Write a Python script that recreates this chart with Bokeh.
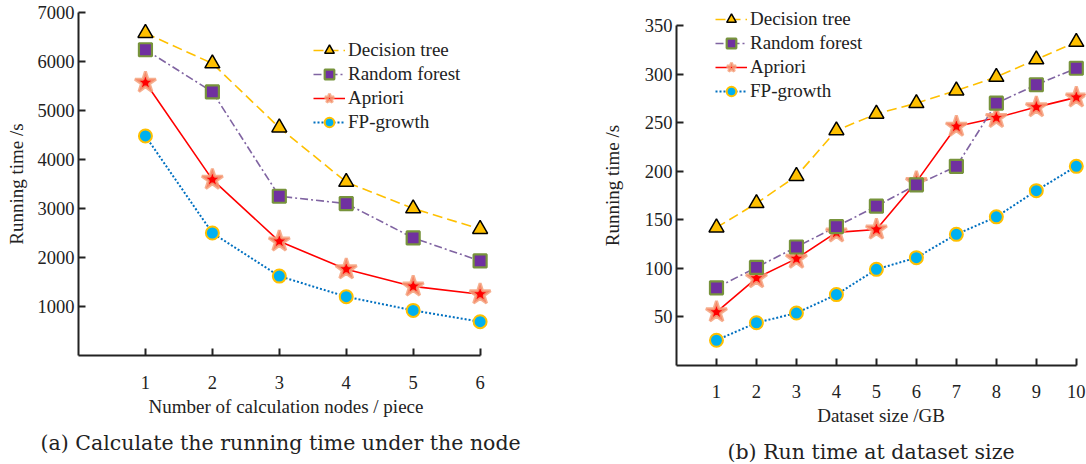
from bokeh.plotting import figure
from bokeh.layouts import row
from bokeh.models import Range1d, FixedTicker, Legend, LegendItem, Title
from bokeh.embed import file_html
from bokeh.resources import INLINE

# ---------------- data ----------------
series_names = ["Decision tree", "Random forest", "Apriori", "FP-growth"]

nodes = [1, 2, 3, 4, 5, 6]
a_decision_tree = [6580, 5960, 4650, 3540, 3000, 2580]
a_random_forest = [6240, 5380, 3250, 3100, 2400, 1930]
a_apriori = [5570, 3590, 2330, 1760, 1410, 1250]
a_fp_growth = [4480, 2500, 1620, 1200, 920, 690]
a_yticks = [1000, 2000, 3000, 4000, 5000, 6000, 7000]

sizes = [1, 2, 3, 4, 5, 6, 7, 8, 9, 10]
b_decision_tree = [142, 167, 195, 242, 259, 270, 283, 297, 315, 333]
b_random_forest = [80, 101, 122, 143, 164, 186, 205, 270, 289, 306]
b_apriori = [55, 90, 110, 137, 140, 189, 246, 255, 266, 276]
b_fp_growth = [26, 44, 54, 73, 99, 111, 135, 153, 180, 205]
b_yticks = [50, 100, 150, 200, 250, 300, 350]

SERIF = "Liberation Serif"

styles = {
    "Decision tree": dict(line=dict(line_color="#FFC000", line_width=1.6, line_dash="10 5"),
                          mk=dict(marker="triangle", size=15, fill_color="#FFC000",
                                  line_color="#000000", line_width=1.5)),
    "Random forest": dict(line=dict(line_color="#8064A2", line_width=1.6, line_dash="8 3 2 3"),
                          mk=dict(marker="square", size=13, fill_color="#7030A0",
                                  line_color="#77933C", line_width=2.2)),
    "Apriori": dict(line=dict(line_color="#FF0000", line_width=1.6),
                    mk=dict(marker="star", size=22, fill_color="#FF0000",
                            line_color="#F4A27C", line_width=3, line_alpha=0.85)),
    "FP-growth": dict(line=dict(line_color="#0070C0", line_width=2, line_dash="2 2"),
                      mk=dict(marker="circle", size=13, fill_color="#00B0F0",
                              line_color="#FFC000", line_width=2)),
}


def make_panel(xs, data, xmax, xbound, ymax, ybound, yticks, frame_w, frame_h, borders,
               xlabel, caption, legend_left, legend_first_center, ylab_standoff,
               xlab_standoff, tick_standoff, cap_standoff, cap_offset):
    bl, br, bt, bb = borders
    p = figure(frame_width=frame_w, frame_height=frame_h,
               x_range=Range1d(0, xmax), y_range=Range1d(0, ymax),
               output_backend="svg", toolbar_location=None,
               min_border_left=bl, min_border_right=br, min_border_top=bt, min_border_bottom=bb)
    try:
        p.frame_align = False
    except Exception:
        pass
    p.outline_line_color = None
    p.grid.visible = False
    p.background_fill_color = "white"

    for ax in (p.xaxis[0], p.yaxis[0]):
        ax.axis_line_width = 2
        ax.axis_line_color = "#222222"
        ax.major_tick_line_color = "#222222"
        ax.major_tick_line_width = 2
        ax.major_tick_in = 7
        ax.major_tick_out = 0
        ax.minor_tick_line_color = None
        ax.major_label_text_font = SERIF
        ax.major_label_text_font_size = "18.5px"
        ax.major_label_text_color = "#222222"
        ax.axis_label_text_font = SERIF
        ax.axis_label_text_font_size = "19px"
        ax.axis_label_text_font_style = "normal"
        ax.axis_label_text_color = "#222222"
    p.xaxis.ticker = FixedTicker(ticks=xs)
    p.yaxis.ticker = FixedTicker(ticks=yticks)
    p.xaxis.bounds = (0, xbound)
    p.yaxis.bounds = (0, ybound)
    p.xaxis.axis_label = xlabel
    p.yaxis.axis_label = "Running time /s"
    p.yaxis.major_label_standoff = 4
    p.xaxis.major_label_standoff = tick_standoff
    p.yaxis.axis_label_standoff = ylab_standoff
    p.xaxis.axis_label_standoff = xlab_standoff

    items = {}
    for name in reversed(series_names):
        st = styles[name]
        lr = p.line(xs, data[name], **st["line"])
        items[name] = [lr]
    for name in ["FP-growth", "Apriori", "Random forest", "Decision tree"]:
        st = styles[name]
        sr = p.scatter(xs, data[name], **st["mk"])
        items[name].append(sr)

    item_h, sp = 24, 0
    legend = Legend(items=[LegendItem(label=n, renderers=items[n]) for n in series_names],
                    border_line_alpha=0, background_fill_alpha=0,
                    padding=0, margin=0, glyph_width=32, glyph_height=item_h,
                    label_height=item_h, label_standoff=3, spacing=sp,
                    label_text_font=SERIF, label_text_font_size="19px",
                    label_text_color="#222222")
    box_h = 4 * item_h + 3 * sp
    top = legend_first_center - item_h / 2
    bottom_from_frame = frame_h + bt - (top + box_h)
    legend.location = (legend_left, int(round(bottom_from_frame)))
    p.add_layout(legend)

    t = Title(text=caption, align="left", text_font="DejaVu Serif", text_font_size="20.5px",
              text_font_style="normal", text_color="#222222", standoff=cap_standoff,
              offset=cap_offset)
    p.add_layout(t, "below")
    return p


# left: x 0..6 spans page x 78..480, y 0..7000 spans page y 355..12
left = make_panel(nodes,
                  {"Decision tree": a_decision_tree, "Random forest": a_random_forest,
                   "Apriori": a_apriori, "FP-growth": a_fp_growth},
                  6.2, 6, 7000, 7000, a_yticks, 415, 343, (78, 67, 12, 109),
                  "Number of calculation nodes / piece",
                  "(a) Calculate the running time under the node",
                  235, 50, 8, 4, 20, 19, -38)

# right: x 0..10 spans page x 676..1075, y 0..350 spans page y 365..25
# (frame extended to the top of the page so the legend above 350 is not clipped)
right = make_panel(sizes,
                   {"Decision tree": b_decision_tree, "Random forest": b_random_forest,
                    "Apriori": b_apriori, "FP-growth": b_fp_growth},
                   10.23, 10, 350 * 360 / 340, 350, b_yticks, 409, 360, (116, 1, 5, 99),
                   "Dataset size /GB",
                   "(b) Run time at dataset size",
                   39, 19, 19, 4, 19, 18, 51)

layout = row(left, right)
open("out.html", "w").write(file_html(layout, INLINE))
